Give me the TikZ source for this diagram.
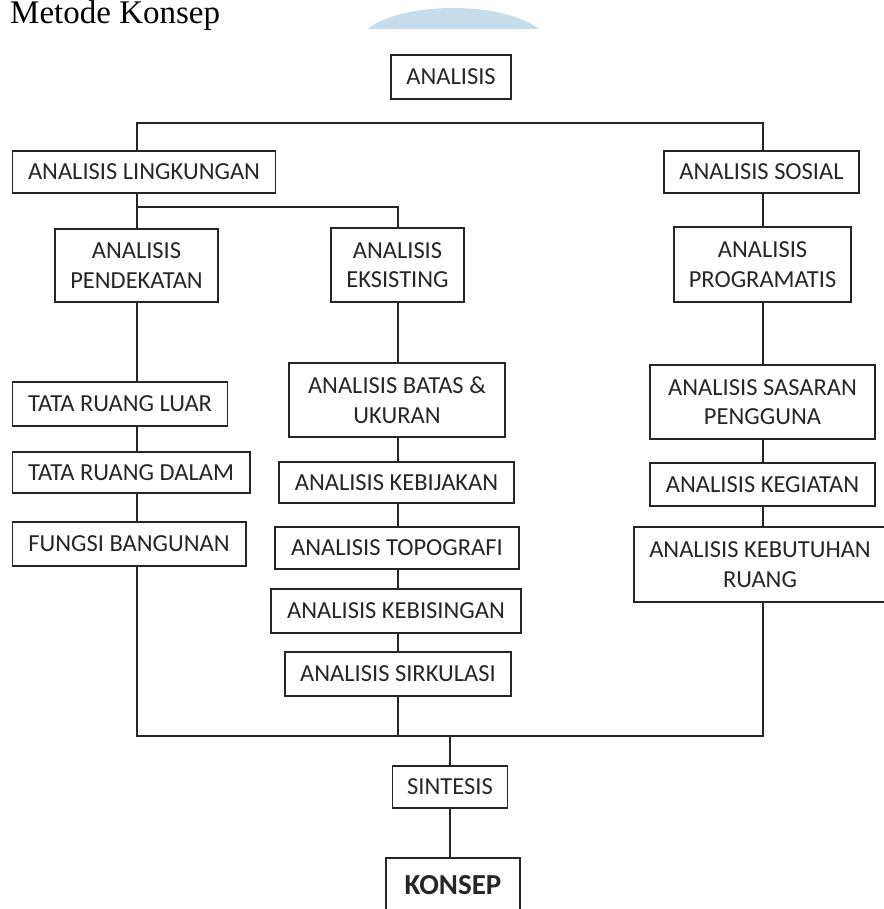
\documentclass[tikz,border=0pt]{standalone}
\usepackage{fontspec}
\setmainfont{Carlito}
\newfontfamily\judulfont{Liberation Serif}
\usepackage{tikz}
\definecolor{birumuda}{RGB}{200,221,236}
\tikzset{
  kotak/.style={draw=black!85, line width=1.5pt, inner sep=0pt, align=center,
    text=black!85, font=\fontsize{24.5}{29.5}\selectfont},
  garis/.style={black!85, line width=1.5pt},
}

\begin{document}
\begin{tikzpicture}[x=1pt,y=-1pt]
  \useasboundingbox (0,0) rectangle (883,909);
  % hiasan dan judul
  \begin{scope}
    \clip (360,0) rectangle (550,29);
    \fill[birumuda] (453,45) ellipse [x radius=95, y radius=37];
  \end{scope}
  \node[anchor=base west, inner sep=0pt, font=\judulfont\fontsize{33}{40}\selectfont] (judul) at (10,23.5) {Metode Konsep};
  % kolom
  \coordinate (kiri) at (137,0);
  \coordinate (tengah) at (398,0);
  \coordinate (kanan) at (763,0);
  \coordinate (atas) at (450,123);
  \coordinate (cabang) at (137,207);
  \coordinate (bawah) at (450,736);
  % kotak
  \node[kotak, minimum width=120, minimum height=44] (analisis) at (451,77) {ANALISIS};
  \node[kotak, minimum width=263, minimum height=42] (lingkungan) at (144,172) {ANALISIS LINGKUNGAN};
  \node[kotak, minimum width=195, minimum height=42] (sosial) at (761.5,172) {ANALISIS SOSIAL};
  \node[kotak, minimum width=163, minimum height=73] (pendekatan) at (136.5,265.5) {ANALISIS\\PENDEKATAN};
  \node[kotak, minimum width=133, minimum height=74] (eksisting) at (397.5,265) {ANALISIS\\EKSISTING};
  \node[kotak, minimum width=177, minimum height=75] (programatis) at (762.5,264.5) {ANALISIS\\PROGRAMATIS};
  \node[kotak, minimum width=215, minimum height=44] (luar) at (120,404) {TATA RUANG LUAR};
  \node[kotak, minimum width=237.5, minimum height=41] (dalam) at (131,472.5) {TATA RUANG DALAM};
  \node[kotak, minimum width=233.5, minimum height=44] (fungsi) at (129,544) {FUNGSI BANGUNAN};
  \node[kotak, minimum width=216, minimum height=74] (batas) at (397,400) {ANALISIS BATAS \&\\UKURAN};
  \node[kotak, minimum width=235, minimum height=41] (kebijakan) at (396.5,482.5) {ANALISIS KEBIJAKAN};
  \node[kotak, minimum width=244, minimum height=42] (topografi) at (397,548) {ANALISIS TOPOGRAFI};
  \node[kotak, minimum width=250, minimum height=44] (kebisingan) at (396,611) {ANALISIS KEBISINGAN};
  \node[kotak, minimum width=226, minimum height=44] (sirkulasi) at (398,674) {ANALISIS SIRKULASI};
  \node[kotak, minimum width=225, minimum height=74] (sasaran) at (762.5,402) {ANALISIS SASARAN\\PENGGUNA};
  \node[kotak, minimum width=225, minimum height=43] (kegiatan) at (762.5,484.5) {ANALISIS KEGIATAN};
  \node[kotak, minimum width=252, minimum height=75] (kebutuhan) at (760,564.5) {ANALISIS KEBUTUHAN\\RUANG};
  \node[kotak, minimum width=115, minimum height=42] (sintesis) at (450,787) {SINTESIS};
  \node[kotak, minimum width=134, minimum height=54, font=\bfseries\fontsize{29}{34}\selectfont] (konsep) at (453,885) {KONSEP};
  % garis
  \draw[garis] (lingkungan.north -| kiri) |- (atas) -| (sosial.north -| kanan);
  \draw[garis] (lingkungan.south -| kiri) -- (pendekatan.north -| kiri);
  \draw[garis] (cabang) -| (eksisting.north -| tengah);
  \foreach \a/\b/\k in {pendekatan/luar/kiri, luar/dalam/kiri, dalam/fungsi/kiri,
      eksisting/batas/tengah, batas/kebijakan/tengah, kebijakan/topografi/tengah,
      topografi/kebisingan/tengah, kebisingan/sirkulasi/tengah,
      sosial/programatis/kanan, programatis/sasaran/kanan, sasaran/kegiatan/kanan,
      kegiatan/kebutuhan/kanan}
    \draw[garis] (\a.south -| \k) -- (\b.north -| \k);
  \draw[garis] (fungsi.south -| kiri) -- (kiri |- bawah) -- (kanan |- bawah) -- (kebutuhan.south -| kanan);
  \draw[garis] (sirkulasi.south -| tengah) -- (tengah |- bawah);
  \draw[garis] (bawah) -- (sintesis);
  \draw[garis] (sintesis) -- (konsep.north -| sintesis);
\end{tikzpicture}
\end{document}
